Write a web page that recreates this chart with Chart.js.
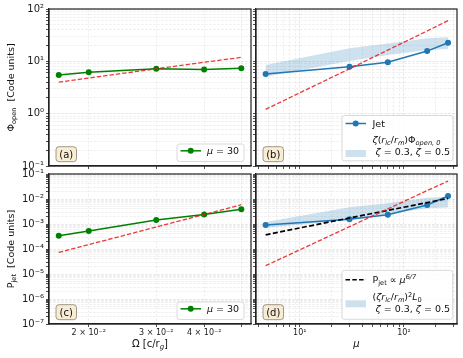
<!DOCTYPE html>
<html>
<head>
<meta charset="utf-8">
<script src="https://cdn.jsdelivr.net/npm/chart.js@4.4.1/dist/chart.umd.min.js"></script>
<style>
  html, body { margin: 0; padding: 0; background: #fff; }
  #wrap { position: relative; width: 463px; height: 358px; }
  #wrap canvas { position: absolute; left: 0; top: 0; }
</style>
</head>
<body>
<div id="wrap">
  <canvas id="panel-a" width="463" height="358"></canvas>
  <canvas id="panel-b" width="463" height="358"></canvas>
  <canvas id="panel-c" width="463" height="358"></canvas>
  <canvas id="panel-d" width="463" height="358"></canvas>
</div>
<script>
// ---- data ----
const omega = [0.0167, 0.02, 0.03, 0.04, 0.05];
const phiOpenOmega = [5.5, 6.2, 7.2, 7.0, 7.35];
const phiOpenOmegaFit = [4.0, 4.8, 7.2, 9.6, 11.9];
const pJetOmega = [3.4e-4, 5.2e-4, 1.45e-3, 2.4e-3, 3.9e-3];
const pJetOmegaFit = [7.3e-5, 1.5e-4, 7.6e-4, 2.4e-3, 5.9e-3];

const mu = [4.7, 30, 70, 167, 265];
const phiJet = [5.7, 7.9, 9.6, 15.7, 22.6];
const phiJetFit = [1.21, 7.2, 16.4, 38, 60];
const phiBandLow = [5.1, 10.1, 13.2, 16.4, 17.2];
const phiBandHigh = [8.5, 17.7, 22, 27.5, 28.8];
const pJetMu = [9.1e-4, 1.54e-3, 2.36e-3, 5.75e-3, 1.32e-2];
const pJetMuPower = [3.7e-4, 1.74e-3, 3.5e-3, 7.2e-3, 1.06e-2];
const pJetMuFit = [2.15e-5, 7.8e-4, 4.0e-3, 2.18e-2, 5.2e-2];
const pBandLow = [7e-4, 1.45e-3, 2.5e-3, 4.3e-3, 4.6e-3];
const pBandHigh = [1.2e-3, 4.7e-3, 6.7e-3, 1.13e-2, 1.24e-2];

// tick labels
const phiTicks = [0.1, 1, 10, 100];
const phiTickLabels = ['10⁻¹', '10⁰', '10¹', '10²'];
const powTicks = [1e-7, 1e-6, 1e-5, 1e-4, 1e-3, 1e-2, 1e-1];
const powTickLabels = ['10⁻⁷', '10⁻⁶', '10⁻⁵', '10⁻⁴', '10⁻³', '10⁻²', '10⁻¹'];
const omegaTicks = [0.02, 0.03, 0.04];
const omegaTickLabels = ['2 × 10⁻²', '3 × 10⁻²', '4 × 10⁻²'];
const muTicks = [10, 100];
const muTickLabels = ['10¹', '10²'];

const FONT = '"DejaVu Sans", sans-serif';
const W = 463, H = 358;
const GREEN = '#008000';
const BLUE = '#1f77b4';
const RED = 'rgba(232,30,30,0.88)';
const BAND = 'rgba(31,119,180,0.22)';

const pts = (xs, ys) => xs.map((x, i) => ({ x, y: ys[i] }));

// every 1..9 x 10^n inside [lo, hi]
function logTicks(lo, hi) {
    const out = [];
    for (let e = Math.floor(Math.log10(lo)); e <= Math.ceil(Math.log10(hi)); e++) {
        for (let m = 1; m <= 9; m++) {
            const v = parseFloat((m * Math.pow(10, e)).toPrecision(6));
            if (v >= lo * 0.9999 && v <= hi * 1.0001) out.push({ value: v, major: m === 1 });
        }
    }
    return out;
}

function labelFor(v, ticks, labels) {
    for (let i = 0; i < ticks.length; i++) {
        if (Math.abs(Math.log10(v / ticks[i])) < 1e-6) return labels[i];
    }
    return '';
}

function axisOpts(ax, pos, size) {
    return {
        type: 'logarithmic',
        position: pos,
        min: ax.min, max: ax.max,
        bounds: 'data',
        afterBuildTicks: (s) => { s.ticks = logTicks(ax.min, ax.max); },
        afterFit: (s) => { if (pos === 'left') s.width = size; else s.height = size; },
        ticks: {
            autoSkip: false, maxRotation: 0, minRotation: 0,
            padding: pos === 'left' ? 2 : 1,
            color: '#1a1a1a',
            font: { family: FONT, size: ax.fontSize },
            callback: (v) => ax.labels ? labelFor(v, ax.ticks, ax.labels) : ''
        },
        grid: {
            color: (c) => (c.tick && c.tick.major) ? 'rgba(0,0,0,0.14)' : 'rgba(0,0,0,0.09)',
            lineWidth: 0.7,
            tickColor: '#222', tickLength: 3, tickWidth: 0.8
        },
        border: { display: true, color: '#222', width: 1.2, dash: [2.5, 1.5] }
    };
}

// text with sub/superscripts: runs of [text, style]
function runFont(style, size) {
    const small = style.startsWith('sub') || style.startsWith('sup');
    const it = style.endsWith('i');
    return (it ? 'italic ' : '') + (small ? size * 0.7 : size) + 'px ' + FONT;
}
function richWidth(ctx, runs, size) {
    let w = 0;
    for (const [t, s] of runs) { ctx.font = runFont(s, size); w += ctx.measureText(t).width; }
    return w;
}
function drawRich(ctx, runs, x, y, size, align) {
    ctx.save();
    ctx.textAlign = 'left';
    ctx.textBaseline = 'alphabetic';
    ctx.fillStyle = '#111';
    let cx = align === 'center' ? x - richWidth(ctx, runs, size) / 2 : x;
    for (const [t, s] of runs) {
        ctx.font = runFont(s, size);
        const dy = s.startsWith('sub') ? size * 0.22 : s.startsWith('sup') ? -size * 0.4 : 0;
        ctx.fillText(t, cx, y + dy);
        cx += ctx.measureText(t).width;
    }
    ctx.restore();
}

function roundBox(ctx, x, y, w, h, r, fill, stroke) {
    ctx.beginPath();
    ctx.roundRect(x, y, w, h, r);
    ctx.fillStyle = fill;
    ctx.fill();
    ctx.lineWidth = 0.8;
    ctx.strokeStyle = stroke;
    ctx.stroke();
}

function decorPlugin(d) {
    return {
        id: 'decor',
        afterDraw(chart) {
            const ctx = chart.ctx, a = chart.chartArea;
            ctx.save();
            ctx.strokeStyle = '#222';
            ctx.lineWidth = 1.2;
            ctx.strokeRect(a.left, a.top, a.right - a.left, a.bottom - a.top);

            // panel letter
            const bx = a.left + 7, by = a.bottom - 4.3 - 15;
            roundBox(ctx, bx, by, 20.5, 15, 3, 'rgba(245,222,179,0.55)', 'rgba(90,80,60,0.7)');
            ctx.fillStyle = '#111';
            ctx.font = '10px ' + FONT;
            ctx.textAlign = 'center';
            ctx.textBaseline = 'alphabetic';
            ctx.fillText(d.letter, bx + 10.25, by + 11);

            // legend
            const L = d.legend;
            const lx = a.right - L.right - L.w, ly = a.bottom - L.bottom - L.h;
            roundBox(ctx, lx, ly, L.w, L.h, 2.5, 'rgba(255,255,255,0.85)', '#cfcfcf');
            for (const it of L.items) {
                if (it.kind === 'line') {
                    ctx.beginPath();
                    ctx.setLineDash(it.dash || []);
                    ctx.strokeStyle = it.color;
                    ctx.lineWidth = it.width;
                    ctx.moveTo(lx + 3.5, ly + it.y);
                    ctx.lineTo(lx + 24, ly + it.y);
                    ctx.stroke();
                    ctx.setLineDash([]);
                    if (it.marker) {
                        ctx.beginPath();
                        ctx.arc(lx + 13.7, ly + it.y, 3, 0, Math.PI * 2);
                        ctx.fillStyle = it.color;
                        ctx.fill();
                    }
                } else {
                    ctx.fillStyle = BAND;
                    ctx.fillRect(lx + 3.5, ly + it.y, 20.5, 7);
                }
                for (const ln of it.lines) drawRich(ctx, ln.runs, lx + L.textX, ly + ln.base, 9.5, 'left');
            }

            // axis titles
            if (d.yTitle) {
                ctx.save();
                ctx.translate(14, (a.top + a.bottom) / 2);
                ctx.rotate(-Math.PI / 2);
                drawRich(ctx, d.yTitle, 0, 0, 9.5, 'center');
                ctx.restore();
            }
            if (d.xTitle) drawRich(ctx, d.xTitle, (a.left + a.right) / 2, 346.5, 10, 'center');
            ctx.restore();
        }
    };
}

function makePanel(id, area, xAx, yAx, datasets, deco) {
    const yW = yAx.labels ? 44 : 4;
    const xH = xAx.labels ? 16 : 4;
    return new Chart(document.getElementById(id), {
        type: 'line',
        data: { datasets },
        options: {
            responsive: false,
            animation: false,
            events: [],
            layout: { padding: { left: area.l - yW, top: area.t, right: W - area.r, bottom: H - area.b - xH } },
            elements: { line: { tension: 0 } },
            scales: { x: axisOpts(xAx, 'bottom', xH), y: axisOpts(yAx, 'left', yW) },
            plugins: { legend: { display: false }, tooltip: { enabled: false } }
        },
        plugins: [decorPlugin(deco)]
    });
}

// ---- axes ----
const omegaRange = { min: 0.01575, max: 0.053 };
const muRange = { min: 3.8, max: 323 };
const xOmegaTop = { ...omegaRange, fontSize: 8 };
const xOmegaBottom = { ...omegaRange, fontSize: 8, ticks: omegaTicks, labels: omegaTickLabels };
const xMuTop = { ...muRange, fontSize: 8 };
const xMuBottom = { ...muRange, fontSize: 8, ticks: muTicks, labels: muTickLabels };
const yPhiLeft = { min: 0.1, max: 100, fontSize: 10, ticks: phiTicks, labels: phiTickLabels };
const yPhiRight = { min: 0.1, max: 100, fontSize: 10 };
const yPowLeft = { min: 1e-7, max: 0.1, fontSize: 10, ticks: powTicks, labels: powTickLabels };
const yPowRight = { min: 1e-7, max: 0.1, fontSize: 10 };

const redFit = (ys, xs) => ({ data: pts(xs, ys), borderColor: RED, borderDash: [4.4, 2], borderWidth: 1.3, pointRadius: 0, fill: false });
const series = (ys, xs, color) => ({ data: pts(xs, ys), borderColor: color, backgroundColor: color, borderWidth: 1.5, pointRadius: 3, pointBorderWidth: 0, fill: false });
const bandTop = (ys, xs) => ({ data: pts(xs, ys), borderWidth: 0, pointRadius: 0, backgroundColor: BAND, fill: '+1' });
const bandBottom = (ys, xs) => ({ data: pts(xs, ys), borderWidth: 0, pointRadius: 0, fill: false });

const muLegendRuns = [['μ', 'i'], [' = 30', '']];
const zetaRuns = [[' ', ''], ['ζ', 'i'], [' = 0.3, ', ''], ['ζ', 'i'], [' = 0.5', '']];
const smallLegend = { w: 67, h: 17.5, right: 7, bottom: 4.5, textX: 30,
    items: [{ kind: 'line', color: GREEN, width: 1.5, marker: true, y: 6.8, lines: [{ runs: muLegendRuns, base: 10.3 }] }] };

makePanel('panel-a', { l: 49, t: 9, r: 251, b: 166 }, xOmegaTop, yPhiLeft,
    [redFit(phiOpenOmegaFit, omega), series(phiOpenOmega, omega, GREEN)],
    { letter: '(a)', legend: smallLegend, yTitle: [['Φ', ''], ['open', 'sub'], ['  [Code units]', '']] });

makePanel('panel-b', { l: 256, t: 9, r: 457, b: 166 }, xMuTop, yPhiRight,
    [redFit(phiJetFit, mu), series(phiJet, mu, BLUE), bandTop(phiBandHigh, mu), bandBottom(phiBandLow, mu)],
    { letter: '(b)', legend: { w: 111, h: 45.3, right: 4, bottom: 5.2, textX: 30.5,
        items: [
            { kind: 'line', color: BLUE, width: 1.5, marker: true, y: 8, lines: [{ runs: [['Jet', '']], base: 11.4 }] },
            { kind: 'patch', y: 34.5, lines: [
                { runs: [['ζ', 'i'], ['(', ''], ['r', 'i'], ['lc', 'subi'], ['/', ''], ['r', 'i'], ['m', 'subi'], [')', ''], ['Φ', ''], ['open, 0', 'subi']], base: 27.3 },
                { runs: zetaRuns, base: 39.5 }] }
        ] } });

makePanel('panel-c', { l: 49, t: 174, r: 251, b: 324 }, xOmegaBottom, yPowLeft,
    [redFit(pJetOmegaFit, omega), series(pJetOmega, omega, GREEN)],
    { letter: '(c)', legend: smallLegend, yTitle: [['P', ''], ['jet', 'sub'], ['  [Code units]', '']],
      xTitle: [['Ω', ''], [' [c/r', ''], ['g', 'subi'], [']', '']] });

makePanel('panel-d', { l: 256, t: 174, r: 457, b: 324 }, xMuBottom, yPowRight,
    [redFit(pJetMuFit, mu),
     { data: pts(mu, pJetMuPower), borderColor: '#000', borderDash: [5, 2.4], borderWidth: 1.7, pointRadius: 0, fill: false },
     series(pJetMu, mu, BLUE), bandTop(pBandHigh, mu), bandBottom(pBandLow, mu)],
    { letter: '(d)', legend: { w: 110.7, h: 49, right: 4.3, bottom: 4.7, textX: 30.5,
        items: [
            { kind: 'line', color: '#000', width: 1.6, dash: [4.5, 2.3], y: 9.5, lines: [{ runs: [['P', ''], ['jet', 'sub'], [' ∝ ', ''], ['μ', 'i'], ['6/7', 'supi']], base: 12.6 }] },
            { kind: 'patch', y: 30, lines: [
                { runs: [['(', ''], ['ζ', 'i'], ['r', 'i'], ['lc', 'subi'], ['/', ''], ['r', 'i'], ['m', 'subi'], [')', ''], ['2', 'sup'], ['L', 'i'], ['0', 'sub']], base: 30 },
                { runs: zetaRuns, base: 42 }] }
        ] }, xTitle: [['μ', 'i']] });
</script>
</body>
</html>
